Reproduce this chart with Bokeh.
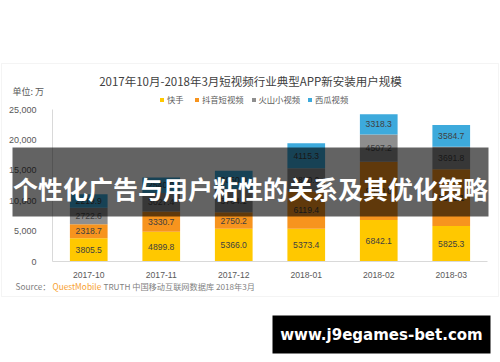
from bokeh.plotting import figure
from bokeh.models import (Range1d, Label, BoxAnnotation, Legend, LegendItem, LinearAxis,
                          NumeralTickFormatter, ColumnDataSource, FixedTicker)
from bokeh.embed import file_html
from bokeh.resources import INLINE
from bokeh.core.properties import value

# ---- data ----
months = ["2017-10", "2017-11", "2017-12", "2018-01", "2018-02", "2018-03"]
series_names = ["快手", "抖音短视频", "火山小视频", "西瓜视频"]
kuaishou = [3805.5, 4899.8, 5366.0, 5373.4, 6842.1, 5825.3]
douyin = [2318.7, 3330.7, 2750.2, 6119.4, 9550.0, 9353.1]
huoshan = [2722.6, 3027.4, 3764.1, 3830.0, 4507.2, 3691.8]
xigua = [2219.9, 2540.0, 3060.0, 4115.3, 3318.3, 3584.7]
y_ticks = [0, 5000, 10000, 15000, 20000, 25000]

title_text = "2017年10月-2018年3月短视频行业典型APP新安装用户规模"
unit_text = "单位: 万"
banner_text = "个性化广告与用户粘性的关系及其优化策略"
watermark_text = "www.j9egames-bet.com"

colors = ["#FFC800", "#F7941E", "#8E8E8E", "#3DAADC"]
keys = ["ks", "dy", "hs", "xg"]
values_list = [kuaishou, douyin, huoshan, xigua]

W, H = 500, 362
# plot area of the original chart, in canvas pixels
AX_L, AX_R, AX_T, AX_B = 52.0, 487.0, 109.0, 261.0
YMAX = 25000.0
step = (AX_R - AX_L) / len(months)
x0 = -(AX_L + step / 2) / step
x1 = x0 + W / step
ppu = (AX_B - AX_T) / YMAX
y0 = -(H - AX_B) / ppu
y1 = AX_B / ppu

xs = list(range(len(months)))


def sx(px):
    return px


def sy(py):
    return H - py


p = figure(width=W, height=H, x_range=Range1d(x0, x1), y_range=Range1d(y0, y1),
           output_backend="svg", toolbar_location=None, x_axis_location=None,
           y_axis_location=None, min_border=0,
           background_fill_color="white", border_fill_color="white")
p.outline_line_color = None
p.grid.visible = False

data = dict(x=xs)
for k, v in zip(keys, values_list):
    data[k] = v
src = ColumnDataSource(data)
rends = p.vbar_stack(keys, x="x", width=0.52, color=colors, line_color=None, source=src)

# segment labels
lx, ly, lt = [], [], []
cum = [0.0] * len(months)
for vals in values_list:
    for i, v in enumerate(vals):
        lx.append(xs[i])
        ly.append(cum[i] + v / 2)
        lt.append("%.1f" % v)
        cum[i] += v
p.text(x=lx, y=ly, text=lt, text_align="center", text_baseline="middle",
       text_font_size="8.6px", text_color="#404040", text_font=value("Liberation Sans"))

# axes (placed at the original plot area's edges)
yaxis = LinearAxis(fixed_location=-0.5, bounds=(0, YMAX), ticker=FixedTicker(ticks=y_ticks),
                   formatter=NumeralTickFormatter(format="0,0"))
xaxis = LinearAxis(fixed_location=0, bounds=(-0.5, len(months) - 0.5),
                   ticker=FixedTicker(ticks=xs),
                   major_label_overrides={i: m for i, m in enumerate(months)})
for ax in (xaxis, yaxis):
    ax.axis_line_color = "#D9D9D9"
    ax.major_tick_line_color = None
    ax.minor_tick_line_color = None
    ax.major_label_text_color = "#595959"
    ax.major_label_text_font = "Liberation Sans"
yaxis.major_label_text_font_size = "9px"
xaxis.major_label_text_font_size = "8.6px"
yaxis.major_label_standoff = 10
xaxis.major_label_standoff = 4
p.add_layout(yaxis, "left")
p.add_layout(xaxis, "below")

# legend
items = [LegendItem(label=n, renderers=[r]) for n, r in zip(series_names, rends)]
leg = Legend(items=items, orientation="horizontal", location=(sx(159), sy(105)),
             glyph_width=5, glyph_height=5, label_height=10, label_standoff=3, spacing=7,
             padding=0, margin=0, border_line_color=None, background_fill_alpha=0,
             label_text_font_size="8.3px", label_text_color="#595959",
             label_text_font="Noto Sans CJK SC", label_text_baseline="middle")
p.add_layout(leg, "center")

# outer frame of the original graphic
p.add_layout(BoxAnnotation(left=sx(1), right=sx(498), top=sy(63), bottom=sy(296),
                           left_units="screen", right_units="screen", top_units="screen",
                           bottom_units="screen", fill_alpha=0, line_color="#D9D9D9",
                           line_width=1, level="underlay"))

# title and unit
p.add_layout(Label(x=sx(250), y=sy(80), x_units="screen", y_units="screen", text=title_text,
                   text_align="center", text_baseline="middle", text_font="Noto Sans CJK SC",
                   text_font_size="11.5px", text_color="#404040"))
p.add_layout(Label(x=sx(12), y=sy(91), x_units="screen", y_units="screen", text=unit_text,
                   text_align="left", text_baseline="middle", text_font="Noto Sans CJK SC",
                   text_font_size="9px", text_color="#595959"))

# source line
p.add_layout(Label(x=sx(15), y=sy(285), x_units="screen", y_units="screen", text="Source：",
                   text_align="left", text_baseline="middle", text_font="Noto Sans CJK SC",
                   text_font_size="8.3px", text_color="#7F7F7F"))
p.add_layout(Label(x=sx(52), y=sy(285), x_units="screen", y_units="screen", text="QuestMobile",
                   text_align="left", text_baseline="middle", text_font="Noto Sans CJK SC",
                   text_font_size="8.3px", text_color="#F7A233"))
p.add_layout(Label(x=sx(103), y=sy(285), x_units="screen", y_units="screen",
                   text="TRUTH 中国移动互联网数据库 2018年3月",
                   text_align="left", text_baseline="middle", text_font="Noto Sans CJK SC",
                   text_font_size="8.2px", text_color="#7F7F7F"))

# banner overlay
p.add_layout(BoxAnnotation(left=sx(12), right=sx(488), top=sy(147), bottom=sy(216),
                           left_units="screen", right_units="screen", top_units="screen",
                           bottom_units="screen", fill_color="black", fill_alpha=0.61,
                           line_color=None, level="overlay"))
p.add_layout(Label(x=sx(250), y=sy(187), x_units="screen", y_units="screen", text=banner_text,
                   text_align="center", text_baseline="middle", text_font="Noto Sans CJK SC",
                   text_font_style="bold", text_font_size="25px", text_color="white",
                   level="overlay"))

# watermark
p.add_layout(BoxAnnotation(left=sx(272), right=sx(490), top=sy(315), bottom=sy(353),
                           left_units="screen", right_units="screen", top_units="screen",
                           bottom_units="screen", fill_color="black", fill_alpha=1,
                           line_color=None, level="overlay"))
p.add_layout(Label(x=sx(381), y=sy(334), x_units="screen", y_units="screen", text=watermark_text,
                   text_align="center", text_baseline="middle", text_font="DejaVu Sans",
                   text_font_style="bold", text_font_size="15px", text_color="white",
                   level="overlay"))

open("out.html", "w").write(file_html(p, INLINE))
